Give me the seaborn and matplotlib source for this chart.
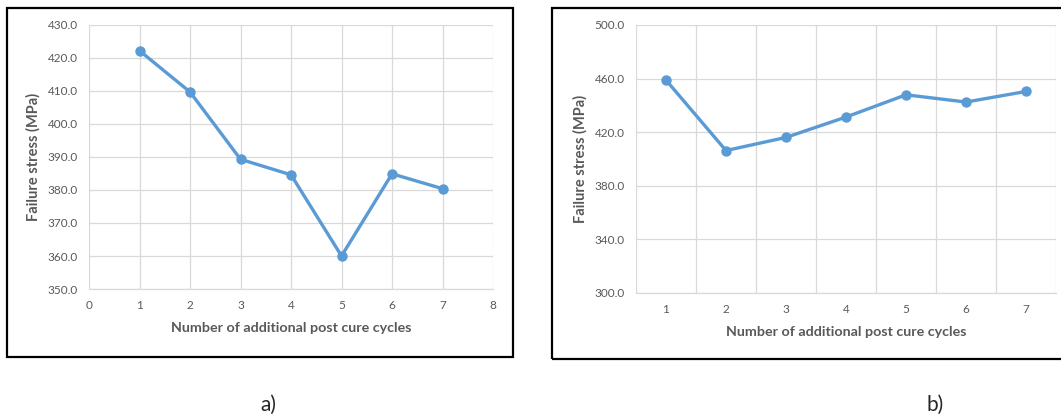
import numpy as np
import pandas as pd
import seaborn as sns
import matplotlib.pyplot as plt
from matplotlib.patches import Rectangle

sns.set_theme(style="whitegrid")
plt.rcParams['font.family'] = ['Lato', 'DejaVu Sans']

### data
cycles_a = [1, 2, 3, 4, 5, 6, 7]
stress_a = [422.2, 409.7, 389.3, 384.6, 360.0, 384.9, 380.4]

cycles_b = ['1', '2', '3', '4', '5', '6', '7']
stress_b = [458.9, 406.3, 416.1, 431.3, 447.9, 442.5, 450.4]

xlabel = 'Number of additional post cure cycles'
ylabel = 'Failure stress (MPa)'
blue = '#5B9BD5'
grid = '#D9D9D9'
txt = '#595959'

df_a = pd.DataFrame({'cycles': cycles_a, 'stress': stress_a})
df_b = pd.DataFrame({'cycles': cycles_b, 'stress': stress_b})

fig = plt.figure(figsize=(10.61, 4.2), dpi=100)
ax1 = fig.add_axes([0.0839, 0.3119, 0.3808, 0.6286])
ax2 = fig.add_axes([0.5994, 0.3024, 0.3959, 0.6381])

### panel a
sns.lineplot(data=df_a, x='cycles', y='stress', ax=ax1, color=blue, lw=2.4,
             marker='o', markersize=7.5, markeredgewidth=0)
ax1.set_xlim(0, 8)
ax1.set_ylim(350, 430)
ax1.set_xticks(range(0, 9))
ax1.set_yticks(np.arange(350, 431, 10))
ax1.set_yticklabels([f'{v:.1f}' for v in np.arange(350, 431, 10)])

### panel b (categorical x)
sns.lineplot(data=df_b, x='cycles', y='stress', ax=ax2, color=blue, lw=2.4,
             marker='o', markersize=7.5, markeredgewidth=0, sort=False)
ax2.set_xlim(-0.5, 6.5)
ax2.set_ylim(300, 500)
ax2.set_yticks(np.arange(300, 501, 40))
ax2.set_yticklabels([f'{v:.1f}' for v in np.arange(300, 501, 40)])
ax2.set_xticks(range(7))
ax2.set_xticks(np.arange(-0.5, 7, 1), minor=True)
ax2.xaxis.grid(False, which='major')
ax2.xaxis.grid(True, which='minor', color=grid, lw=0.9)

for ax in (ax1, ax2):
    ax.set_facecolor('white')
    ax.grid(True, axis='y', color=grid, lw=0.9)
    if ax is ax1:
        ax.grid(True, axis='x', color=grid, lw=0.9)
    for s in ['top', 'right', 'left']:
        ax.spines[s].set_visible(False)
    ax.spines['bottom'].set_color(grid)
    ax.spines['bottom'].set_linewidth(0.9)
    ax.tick_params(axis='both', which='both', length=0, labelsize=8.5, colors=txt, pad=8)
    ax.set_xlabel(xlabel, fontsize=10.3, fontweight='bold', color=txt, labelpad=8)
    ax.set_ylabel(ylabel, fontsize=10.5, fontweight='bold', color=txt, labelpad=5)

### black frames round each chart
fig.patches.append(Rectangle((0.0066, 0.15), 0.4769, 0.831, transform=fig.transFigure,
                             fill=False, ec='black', lw=1.6))
fig.patches.append(Rectangle((0.5203, 0.1452), 0.49, 0.8357, transform=fig.transFigure,
                             fill=False, ec='black', lw=1.6))

fig.text(268 / 1061, 1 - 405 / 420, 'a)', fontsize=15, ha='center', va='center')
fig.text(935 / 1061, 1 - 405 / 420, 'b)', fontsize=15, ha='center', va='center')

fig.savefig('out.png', dpi=100, facecolor='white')
